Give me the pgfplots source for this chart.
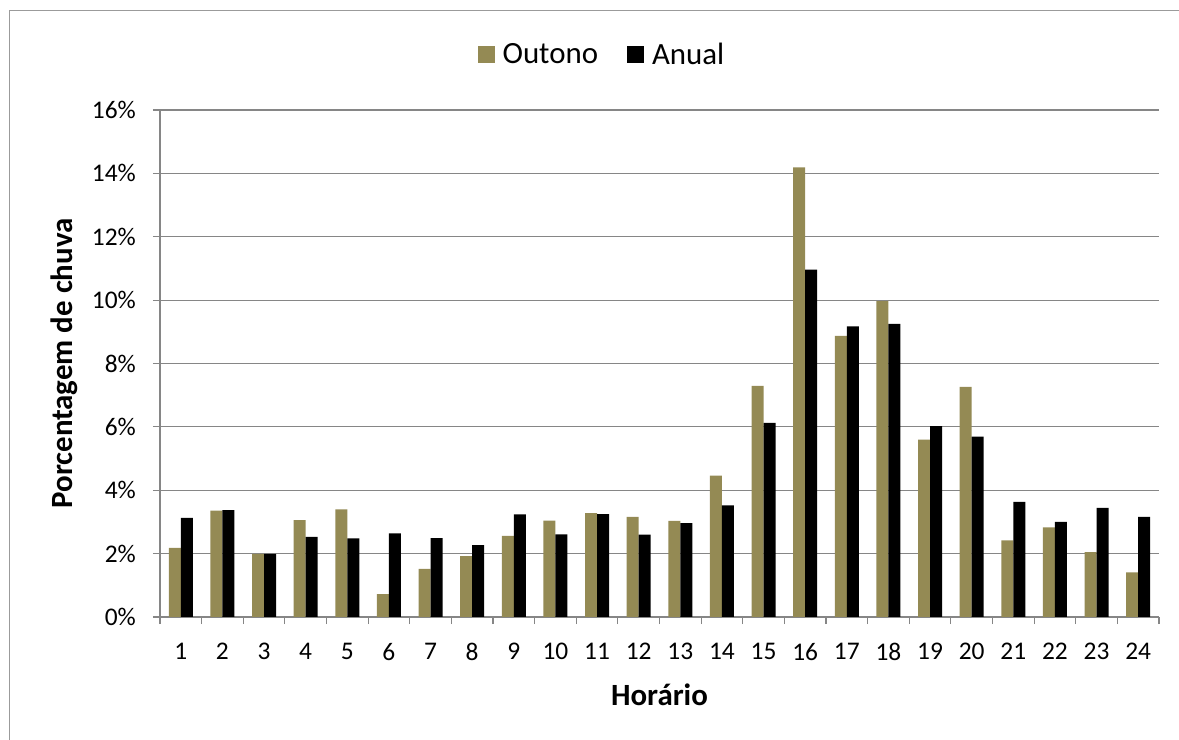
\documentclass[border=0pt]{standalone}
\usepackage{pgfplots}
\usepackage{pgfplotstable}
\pgfplotsset{compat=1.18}
\usepackage{fontspec}
\setmainfont{Carlito}
\definecolor{outono}{RGB}{148,138,84}
\definecolor{gridgray}{RGB}{134,134,134}
\definecolor{framegray}{RGB}{155,155,155}

\pgfplotstableread{
h  outono anual
1  2.18 3.13
2  3.36 3.37
3  1.99 1.99
4  3.06 2.53
5  3.40 2.48
6  0.72 2.64
7  1.52 2.49
8  1.92 2.27
9  2.56 3.24
10 3.04 2.61
11 3.28 3.25
12 3.16 2.60
13 3.03 2.96
14 4.46 3.52
15 7.29 6.13
16 14.19 10.96
17 8.87 9.17
18 9.97 9.25
19 5.60 6.02
20 7.26 5.69
21 2.42 3.63
22 2.83 3.00
23 2.05 3.44
24 1.41 3.16
}\chuva

\begin{document}
\begin{tikzpicture}
\path[use as bounding box] (0bp,0bp) rectangle (1179bp,740bp);
\draw[framegray, line width=1.3bp] (9.3bp,-5bp) -- (9.3bp,729.3bp) -- (1190bp,729.3bp);
\begin{axis}[
  at={(160bp,123bp)}, anchor=south west,
  scale only axis, width=999bp, height=507bp,
  xmin=0.5, xmax=24.5, ymin=0, ymax=16,
  ybar, bar width=0.288,
  axis x line=bottom, axis y line=left,
  axis line style={draw=gridgray, line width=1.2bp, -},
  /pgf/number format/assume math mode=true,
  font=\fontsize{25.5}{30}\selectfont,
  ytick={0,2,...,16},
  yticklabel={\pgfmathprintnumber{\tick}\%},
  ymajorgrids, grid style={gridgray, line width=1.2bp},
  ytick style={gridgray, line width=1.2bp},
  tick align=outside, major tick length=7bp,
  yticklabel style={anchor=east, inner sep=0pt, xshift=-17bp},
  xtick={0.5,1.5,...,24.5}, xticklabels={},
  xtick style={gridgray, line width=1.2bp},
  extra x ticks={1,2,...,24},
  extra x tick style={major tick length=0pt, xticklabel style={anchor=north, inner sep=0pt, yshift=-26bp}},
  xlabel={\bfseries Horário},
  ylabel={\bfseries Porcentagem de chuva},
  label style={font=\fontsize{31}{36}\selectfont},
  xlabel style={at={(rel axis cs:0.5,-0.154)}, anchor=center},
  ylabel style={at={(rel axis cs:-0.0961,0.5)}, anchor=center},
  legend style={at={(rel axis cs:0.4454,1.11)}, anchor=center, draw=none, fill=none,
    legend columns=2, font=\fontsize{31}{36}\selectfont,
    /tikz/every even column/.append style={column sep=21bp},
    nodes={inner xsep=8bp}},
  legend image code/.code={\fill[#1] (0bp,-8.5bp) rectangle (17bp,8.5bp);},
]
\addplot[fill=outono, draw=none, bar shift=-0.144] table[x=h, y=outono] {\chuva};
\addlegendentry{Outono}
\addplot[fill=black, draw=none, bar shift=0.144] table[x=h, y=anual] {\chuva};
\addlegendentry{Anual}
\end{axis}
\end{tikzpicture}
\end{document}
